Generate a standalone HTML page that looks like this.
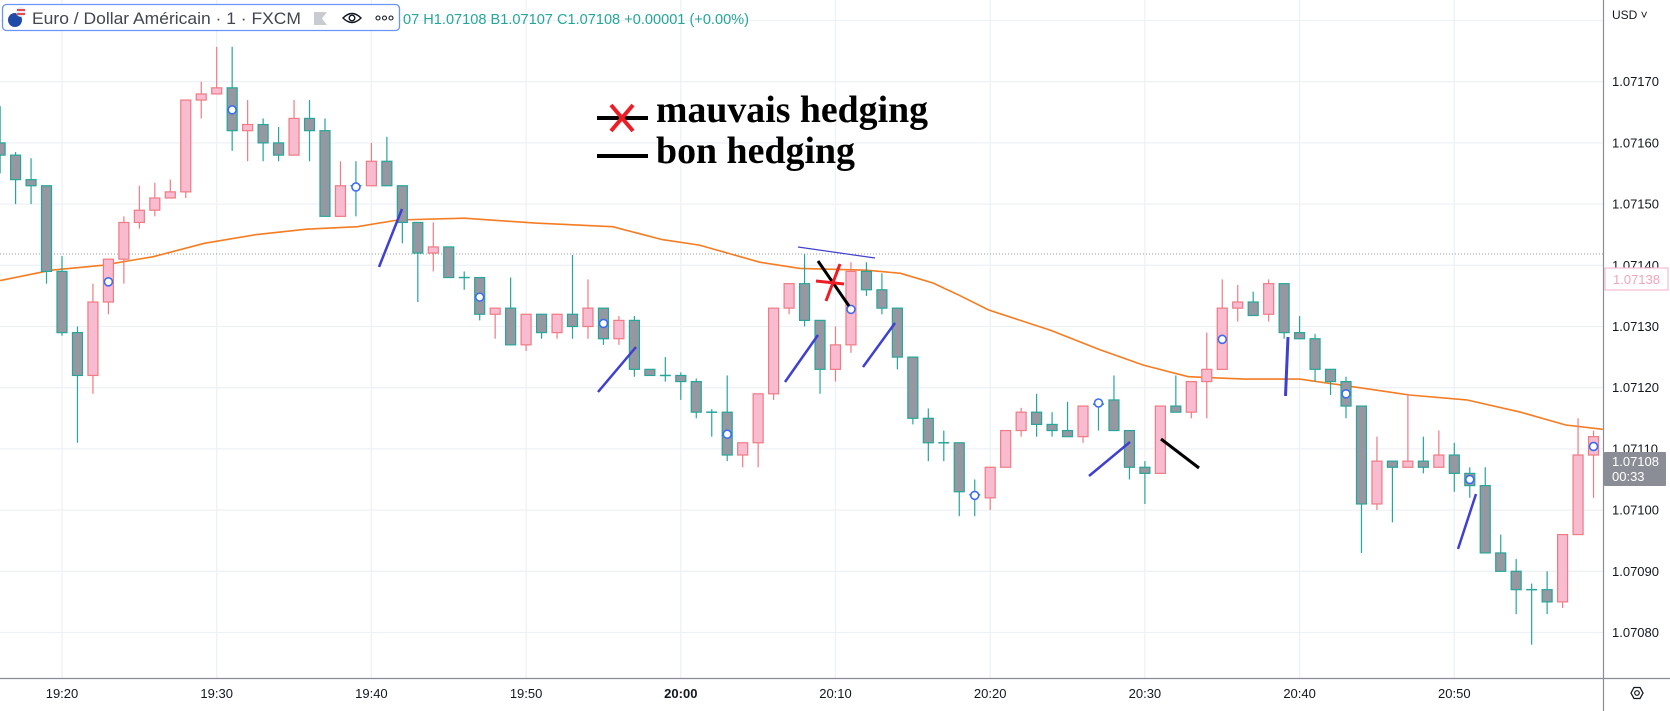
<!DOCTYPE html>
<html><head><meta charset="utf-8"><style>
html,body{margin:0;padding:0;background:#fff;}
svg{display:block;font-family:"Liberation Sans",sans-serif;}
</style></head><body>
<svg id="chart" width="1670" height="711" viewBox="0 0 1670 711" xmlns="http://www.w3.org/2000/svg">
<rect x="0" y="0" width="1670" height="711" fill="#ffffff"/>
<g id="grid"></g>
<line x1="0" y1="254" x2="1603" y2="254" stroke="#9598a1" stroke-width="1" stroke-dasharray="1,2"/>
<g id="ma"></g>
<g id="candles"></g>
<g id="markers"></g>
<g id="drawings">
  <line x1="379" y1="267" x2="402" y2="209" stroke="#3f3fd0" stroke-width="2.5"/>
  <line x1="598" y1="392" x2="636" y2="347" stroke="#3f3fd0" stroke-width="2.5"/>
  <line x1="785" y1="382" x2="818" y2="335" stroke="#3f3fd0" stroke-width="2.5"/>
  <line x1="863" y1="367" x2="895" y2="323" stroke="#3f3fd0" stroke-width="2.5"/>
  <line x1="1089" y1="476" x2="1130" y2="442" stroke="#3f3fd0" stroke-width="2.5"/>
  <line x1="1285.5" y1="396" x2="1288" y2="337" stroke="#3f3fd0" stroke-width="3"/>
  <line x1="1458" y1="549" x2="1476" y2="494" stroke="#3f3fd0" stroke-width="2.5"/>
  <line x1="798" y1="247" x2="875" y2="258" stroke="#3f3fd0" stroke-width="1.2"/>
  <line x1="818" y1="261" x2="849" y2="306" stroke="#000" stroke-width="3"/>
  <line x1="1161" y1="439" x2="1199" y2="468" stroke="#000" stroke-width="3"/>
  <line x1="816" y1="281" x2="844" y2="284" stroke="#ee1c25" stroke-width="3"/>
  <line x1="826" y1="301" x2="840" y2="264" stroke="#ee1c25" stroke-width="3"/>
</g>
<g>
  <line x1="597" y1="118" x2="648" y2="118" stroke="#000" stroke-width="4"/>
  <line x1="611" y1="105" x2="633" y2="131" stroke="#ee1c25" stroke-width="4"/>
  <line x1="633" y1="105" x2="611" y2="131" stroke="#ee1c25" stroke-width="4"/>
  <text x="656" y="122" font-family="Liberation Serif, serif" font-weight="bold" font-size="38" textLength="272" lengthAdjust="spacingAndGlyphs" fill="#000">mauvais hedging</text>
  <line x1="597" y1="156" x2="648" y2="156" stroke="#000" stroke-width="4"/>
  <text x="656" y="163" font-family="Liberation Serif, serif" font-weight="bold" font-size="38" textLength="199" lengthAdjust="spacingAndGlyphs" fill="#000">bon hedging</text>
</g>
<g>
  <rect x="1604" y="0" width="66" height="711" fill="#fff"/>
  <rect x="0" y="679" width="1670" height="32" fill="#fff"/>
  <line x1="1603.5" y1="0" x2="1603.5" y2="711" stroke="#8a8d96" stroke-width="1.2"/>
  <line x1="0" y1="678.5" x2="1670" y2="678.5" stroke="#8a8d96" stroke-width="1.2"/>
  <g id="yticks"></g>
  <g id="xticks"></g>
  <text x="1612" y="19" font-size="12" fill="#131722">USD ˅</text>
  <rect x="1605" y="268" width="63" height="22" fill="#fff" stroke="#f8bbd0" stroke-width="1.2"/>
  <text x="1613" y="284" font-size="13" fill="#f4a3b8">1.07138</text>
  <rect x="1604" y="452" width="62" height="34" fill="#8a8d96" rx="1"/>
  <text x="1612" y="466" font-size="13" fill="#fff">1.07108</text>
  <text x="1612" y="481" font-size="13" fill="#fff">00:33</text>
  <g>
    <polygon points="1631,693 1634,687.5 1640,687.5 1643,693 1640,698.5 1634,698.5" fill="none" stroke="#131722" stroke-width="1.3"/>
    <circle cx="1637" cy="693" r="2.3" fill="none" stroke="#131722" stroke-width="1.2"/>
  </g>
</g>
<g>
  <rect x="2.5" y="4.5" width="397" height="26" rx="4" fill="#fff" stroke="#6a93f7" stroke-width="1.3"/>
  <g>
    <circle cx="15" cy="20" r="7" fill="#1f4aa8"/>
    <circle cx="21" cy="12" r="5" fill="#e6ebf5"/>
    <rect x="17" y="9" width="8" height="2" fill="#e24c4c"/>
    <rect x="17" y="13" width="8" height="2" fill="#e24c4c"/>
  </g>
  <text x="32" y="24" font-size="17" fill="#434651" textLength="269" lengthAdjust="spacingAndGlyphs">Euro / Dollar Américain · 1 · FXCM</text>
  <polygon points="314,12 327,12 322,18.5 327,25 314,25" fill="#c9cbd1"/>
  <g>
    <path d="M343,18 Q352,9 361,18 Q352,27 343,18 Z" fill="none" stroke="#131722" stroke-width="1.4"/>
    <circle cx="352" cy="18" r="2.8" fill="none" stroke="#131722" stroke-width="1.4"/>
  </g>
  <g fill="none" stroke="#131722" stroke-width="1.1">
    <circle cx="378" cy="18" r="2"/><circle cx="384.5" cy="18" r="2"/><circle cx="391" cy="18" r="2"/>
  </g>
  <text x="403" y="24" font-size="15" fill="#26a69a" textLength="346" lengthAdjust="spacingAndGlyphs">07 H1.07108 B1.07107 C1.07108 +0.00001 (+0.00%)</text>
</g>
</svg>
<script>
// prices as offsets: price = 1.07 + v * 0.00001 ; first candle = 19:16
const startMinute = -4; // minutes relative to 19:20
const openV  = [160,158,154,153,139,129,122,134,141,147,149,151,152,167,168,169,162,163,160,158,164,162,148,153,153,157,153,147,142,143,138,138,132,133,127,132,129,132,130,133,128,131,123,122,122,121,116,116,109,111,119,133,137,131,123,127,139,136,133,125,115,111,111,102.5,102,107,113,116,114,113,112,117.3,118,113,107,106,117,116,121,123,133,134,132,137,129,128,123,121,117,101,108,107,108,107,109,106,104,93,90,87,87,85,96,109];
const highV  = [166,158.5,157.5,153,141.5,130,137,141,148,153,153.5,154,167,170,175.7,175.7,167,164,162.6,167,167,164,157,157,160,161,153,147,147,143,139,138,133,138,132,132,132,141.7,137.7,133,131.7,131.7,123,125,122.5,121.5,116.5,122,111,119,133,137,141.8,131,130,140.5,140.5,138.7,133,125,116.6,113,111,105,107,113,116.7,119,116,117.7,117,118,122,113,108,117,122,121,129,137.7,136.8,135.7,137.7,137,131.7,128.8,123,121.8,117,112,108,119,112,113,111,107,107,96,92,88,90,96,115,113];
const lowV   = [155,150,150,137,128.5,111,119,132,137,146,148,151,151,164,168,158.7,157,157,157,158,157,148,148,148,153,153,143.6,134,139,138,136,131,128,127,126,128,128,128,128,127,127,121.8,122,121,118,115,112,108,107,107,118,132,130,119,121,125.7,135,132,123,114,108,108,99,99,100,107,112,112,112,112,111,113,113,105,101,106,116,115,115,123,130.8,131.8,130.8,128,128,121,118.8,115,93,100,98,107,106,107,103,102,93,90,83,78,83,84,96,102];
const closeV = [158,154,153,139,129,122,134,141,147,149,151,152,167,168,169,162,163,160,158,164,162,148,153,153,157,153,147,142,143,138,138,132,133,127,132,129,132,130,133,128,131,123,122,122,121,116,116,109,111,119,133,137,131,123,127,139,136,133,125,115,111,111,103,102.5,107,113,116,114,113,112,117,117.3,113,107,106,117,116,121,123,133,134,131.8,137,129,128,123,121,117,101,108,107,108,107,109,106,104,93,90,87,87,85,96,109,112];
// moving average samples: minute offset (from 19:20) and value
const maMinutes = [-4.0,-0.7,2.6,5.9,9.2,12.5,15.8,19.1,21.7,26.0,30.6,35.6,38.8,41.2,45.1,47.7,52.0,54.2,56.3,58.0,59.9,63.9,67.1,69.9,72.8,76.4,80.0,83.6,87.1,90.8,94.3,97.2,99.6];
const maValues  = [137.5,139.2,140.0,141.4,143.6,145.0,145.9,146.3,147.4,147.7,146.9,146.3,144.2,143.3,140.5,139.5,139.2,138.7,137.1,135.1,132.7,129.4,126.2,123.7,121.8,121.4,121.4,120.1,118.8,118.0,116.0,113.9,113.2];
// signal marker minutes and values
const markerMinutes = [3,11,19,27,35,43,51,59,67,75,83,91,99];
const markerValues  = [137.3,165.4,152.8,134.8,130.5,112.4,132.8,102.4,117.5,127.9,119,105,110.4];
const yTickValues = [180,170,160,150,140,130,120,110,100,90,80];
const yTickLabels = ["","1.07170","1.07160","1.07150","1.07140","1.07130","1.07120","1.07110","1.07100","1.07090","1.07080"];
const xTickMinutes = [0,10,20,30,40,50,60,70,80,90];
const xTickLabels = ["19:20","19:30","19:40","19:50","20:00","20:10","20:20","20:30","20:40","20:50"];

const NS = "http://www.w3.org/2000/svg";
function yScale(v){ return 81.7 + (170 - v) * 6.12; }
function xScale(m){ return 62 + m * 15.47; }
function mk(tag, attrs, parent){ const e=document.createElementNS(NS,tag); for(const k in attrs) e.setAttribute(k, attrs[k]); parent.appendChild(e); return e; }

const grid=document.getElementById('grid');
yTickValues.forEach((v,i)=>{
  const y=yScale(v);
  const l=mk('line',{x1:0,x2:1603,y1:y,y2:y,stroke:'#eef1f6','stroke-width':1.3},grid);
  
  
  if(yTickLabels[i]){
    const t=mk('text',{x:1612,y:y+4.5,'font-size':13,fill:'#131722'},document.getElementById('yticks'));
    t.textContent=yTickLabels[i];
    
    
  }
});
xTickMinutes.forEach((m,i)=>{
  const x=xScale(m);
  const l=mk('line',{x1:x,x2:x,y1:0,y2:678,stroke:'#eef1f6','stroke-width':1.3},grid);
  
  
  const t=mk('text',{x:x,y:698,'font-size':13,fill:'#131722','text-anchor':'middle','font-weight':xTickLabels[i]==="20:00"?'bold':'normal'},document.getElementById('xticks'));
  t.textContent=xTickLabels[i];
  
  
});

// moving average
let d='';
maMinutes.forEach((m,i)=>{ d+=(i?'L':'M')+xScale(m).toFixed(1)+','+yScale(maValues[i]).toFixed(1); });
const maPath=mk('path',{d:d,fill:'none',stroke:'#f57c22','stroke-width':1.6},document.getElementById('ma'));



// candles
const cg=document.getElementById('candles');
openV.forEach((o,i)=>{
  const c=closeV[i], h=highV[i], l=lowV[i];
  const x=xScale(startMinute+i);
  const up=c>o;
  const border=up?'#ef7b84':'#26a69a';
  const fill=up?'#f8bbd0':'#9598a1';
  const g=mk('g',{},cg);
  
  
  mk('line',{x1:x,x2:x,y1:yScale(h),y2:yScale(l),stroke:border,'stroke-width':1.2},g);
  const top=yScale(Math.max(o,c)), bot=yScale(Math.min(o,c));
  if(bot-top<1.5){
    mk('line',{x1:x-5.5,x2:x+5.5,y1:top,y2:top,stroke:border,'stroke-width':1.5},g);
  } else {
    mk('rect',{x:x-5,y:top,width:10,height:bot-top,fill:fill,stroke:border,'stroke-width':1.2},g);
  }
});

// markers
const mg=document.getElementById('markers');
markerMinutes.forEach((m,i)=>{
  const c=mk('circle',{cx:xScale(m),cy:yScale(markerValues[i]),r:4,fill:'#fff',stroke:'#3d6cf0','stroke-width':1.6},mg);
  
  
});
</script>
</body></html>
